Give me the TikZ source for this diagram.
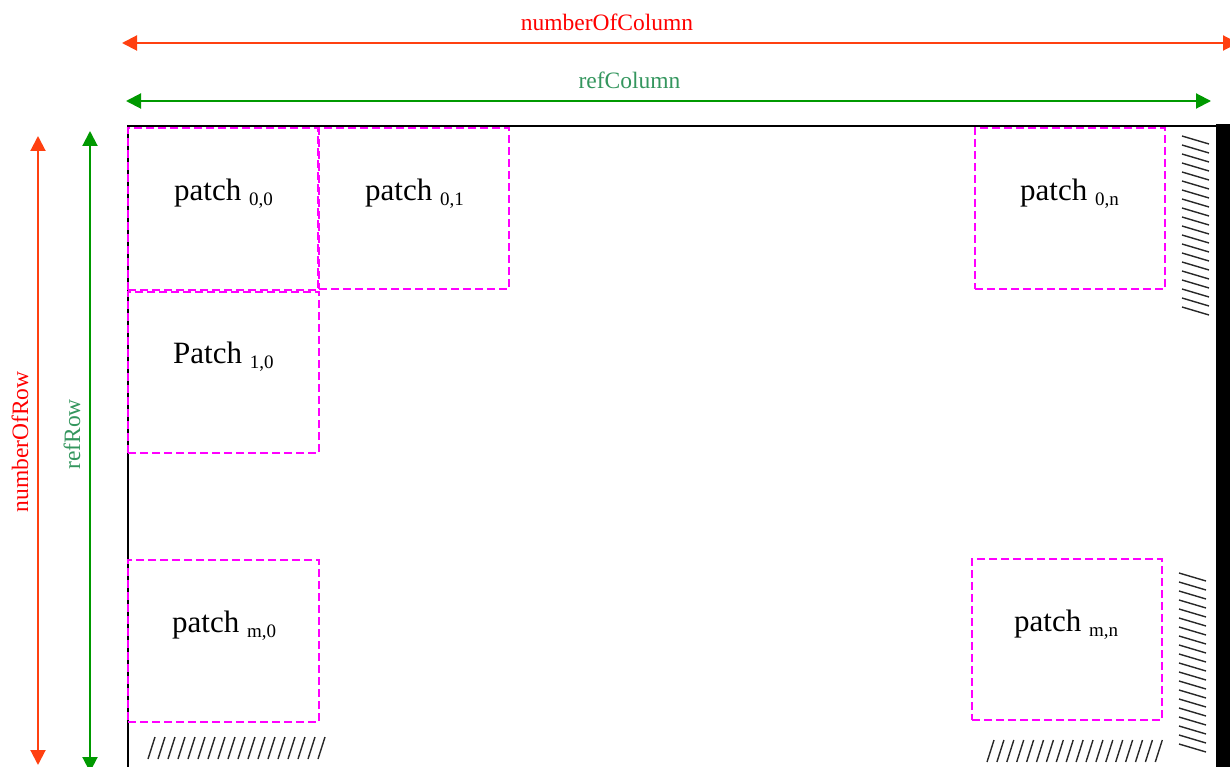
\documentclass[tikz,border=0pt]{standalone}
\usepackage{fontspec}
\setmainfont{Liberation Serif}
\usetikzlibrary{arrows.meta}
\definecolor{arrred}{RGB}{255,64,16}
\definecolor{txtred}{RGB}{255,0,0}
\definecolor{arrgreen}{RGB}{0,153,0}
\definecolor{txtgreen}{RGB}{52,150,94}
\definecolor{patchmag}{RGB}{255,0,255}
\definecolor{hatchcol}{RGB}{40,40,40}
\newcommand{\patchlbl}[2]{\fontsize{31}{31}\selectfont #1 \raisebox{-5pt}{\fontsize{19}{19}\selectfont #2}}
\begin{document}
\begin{tikzpicture}[x=1pt,y=-1pt,
  patchbox/.style={draw=patchmag, line width=2pt, dash pattern=on 8pt off 4pt, inner sep=0pt, outer sep=0pt, anchor=north west},
  dimred/.style={draw=arrred, line width=2pt, {Triangle[length=15pt,width=15pt]}-{Triangle[length=15pt,width=15pt]}},
  dimgreen/.style={draw=arrgreen, line width=2pt, {Triangle[length=15pt,width=15pt]}-{Triangle[length=15pt,width=15pt]}},
  dimlabel/.style={inner sep=0pt, anchor=base, font=\fontsize{23.5}{23.5}\selectfont},
  plabel/.style={inner sep=0pt, anchor=base west},
  hatchline/.style={draw=hatchcol, line width=1.4pt},
  frameline/.style={draw=black, line width=1.6pt}]
\useasboundingbox (0,0) rectangle (1230,767);
\clip (0,0) rectangle (1230,767);

% dimension arrows
\coordinate (ncL) at (122,43);
\coordinate (ncR) at (1238,43);
\draw[dimred] (ncL) -- (ncR);
\node[dimlabel, text=txtred] (ncText) at (607,31) {numberOfColumn};

\coordinate (rcL) at (126,101);
\coordinate (rcR) at (1211,101);
\draw[dimgreen] (rcL) -- (rcR);
\node[dimlabel, text=txtgreen] (rcText) at (629.5,89) {refColumn};

\coordinate (nrT) at (38,136);
\coordinate (nrB) at (38,765);
\draw[dimred] (nrT) -- (nrB);
\node[dimlabel, text=txtred, rotate=90] (nrText) at (28,442) {numberOfRow};

\coordinate (rrT) at (90,131);
\coordinate (rrB) at (90,772);
\draw[dimgreen] (rrT) -- (rrB);
\node[dimlabel, text=txtgreen, rotate=90] (rrText) at (80,434.5) {refRow};

% frame
\draw[frameline] (128,767) -- (128,126) -- (1216,126);
\fill[black] (1216,124) rectangle (1230,767);

% patches
\node[patchbox, minimum width=190pt, minimum height=162pt] (p00) at (128,128) {};
\node[patchbox, minimum width=190pt, minimum height=161pt] (p01) at (319,128) {};
\node[patchbox, minimum width=191pt, minimum height=161pt] (p10) at (128,292) {};
\node[patchbox, minimum width=191pt, minimum height=162pt] (pm0) at (128,560) {};
\node[patchbox, minimum width=190pt, minimum height=161pt] (p0n) at (975,128) {};
\node[patchbox, minimum width=190pt, minimum height=161pt] (pmn) at (972,559) {};

\node[plabel] (l00) at (174,201) {\patchlbl{patch}{0,0}};
\node[plabel] (l01) at (365,201) {\patchlbl{patch}{0,1}};
\node[plabel] (l10) at (173,363) {\patchlbl{Patch}{1,0}};
\node[plabel] (lm0) at (172,632) {\patchlbl{patch}{m,0}};
\node[plabel] (l0n) at (1020,201) {\patchlbl{patch}{0,n}};
\node[plabel] (lmn) at (1014,631) {\patchlbl{patch}{m,n}};

% hatching
\foreach \i in {0,...,17} {
  \draw[hatchline] (148+\i*10,759) -- ++(7,-22);
  \draw[hatchline] (987+\i*9.9,762) -- ++(7,-22);
}
\foreach \i in {0,...,19} {
  \draw[hatchline] (1182,136+\i*9) -- ++(27,8);
  \draw[hatchline] (1179,573+\i*9) -- ++(27,8);
}
\end{tikzpicture}
\end{document}
